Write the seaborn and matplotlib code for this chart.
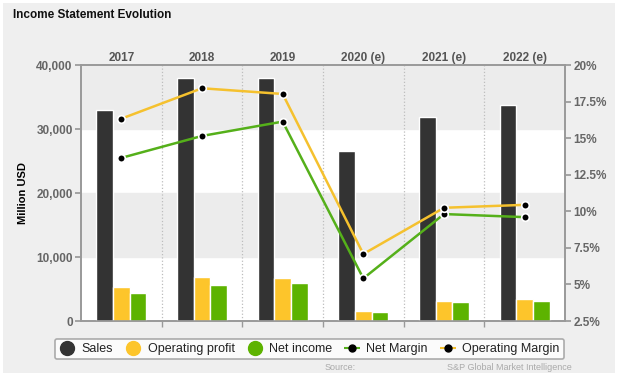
import matplotlib
matplotlib.use('Agg')
import matplotlib.pyplot as plt
from matplotlib.lines import Line2D
from matplotlib.patches import Rectangle
from matplotlib.ticker import FuncFormatter, FixedLocator
import seaborn as sns
import numpy as np
import pandas as pd

# data
years = ['2017', '2018', '2019', '2020 (e)', '2021 (e)', '2022 (e)']
sales = [32900, 38000, 37950, 26500, 31900, 33700]
operating_profit = [5270, 6880, 6720, 1610, 3170, 3480]
net_income = [4330, 5680, 5990, 1360, 3020, 3170]
net_margin = [13.65, 15.15, 16.13, 5.41, 9.81, 9.6]
operating_margin = [16.33, 18.41, 18.02, 7.08, 10.24, 10.44]

series_names = ['Sales', 'Operating profit', 'Net income']
bar_colors = ['#333333', '#fdc52b', '#5db300']
line_green = '#55b01a'
line_yellow = '#f5c12e'

df = pd.DataFrame({
    'year': years * 3,
    'value': sales + operating_profit + net_income,
    'series': np.repeat(series_names, len(years)),
})

sns.set_theme(style='white')
plt.rcParams['font.family'] = ['Liberation Sans', 'DejaVu Sans']

fig = plt.figure(figsize=(6.2, 3.73), dpi=100)
fig.patch.set_facecolor('white')
fig.patches.append(Rectangle((3 / 620, 0), 612 / 620, 370 / 373, transform=fig.transFigure,
                             facecolor='#efefef', edgecolor='none', zorder=-10))

ax = fig.add_axes([81 / 620, 1 - 321 / 373, 484 / 620, 256 / 373])
ax.set_facecolor('white')
ax.axhspan(10000, 20000, color='#ececec', zorder=0)
ax.axhspan(30000, 40000, color='#ececec', zorder=0)

sns.barplot(data=df, x='year', y='value', hue='series', hue_order=series_names,
            palette=bar_colors, width=0.62, saturation=1, ax=ax, legend=False, zorder=3)

ax.set_xlim(-0.5, len(years) - 0.5)
ax.set_ylim(0, 40000)
ax.set_yticks([0, 10000, 20000, 30000, 40000])
ax.yaxis.set_major_formatter(FuncFormatter(lambda v, p: f'{v:,.0f}'))
ax.set_xlabel('')
ax.set_ylabel('Million USD', fontsize=8, fontweight='bold', color='black', labelpad=6)

# year labels on top, boundary ticks below
ax.xaxis.tick_top()
ax.set_xticks(range(len(years)))
ax.set_xticklabels(years, fontsize=8.5, fontweight='bold', color='#555555')
ax.tick_params(axis='x', which='major', length=0, pad=0.5)
ax.xaxis.set_minor_locator(FixedLocator(np.arange(0.5, len(years) - 0.5, 1)))
ax.tick_params(axis='x', which='minor', bottom=True, top=False, length=4, color='#999999')
ax.grid(axis='x', which='minor', linestyle=':', color='#bdbdbd', linewidth=0.9, zorder=1)
ax.tick_params(axis='y', length=4, color='#999999', labelsize=8.5, labelcolor='#666666', pad=2)
for lab in ax.get_yticklabels():
    lab.set_fontweight('bold')
for s in ax.spines.values():
    s.set_color('#999999')
    s.set_linewidth(1.2)

# margins on the right axis
ax2 = ax.twinx()
xpos = np.arange(len(years))
ax2.plot(xpos, net_margin, color=line_green, linewidth=1.8, zorder=4)
ax2.plot(xpos, operating_margin, color=line_yellow, linewidth=1.8, zorder=4)
ax2.scatter(xpos, net_margin, s=30, color='black', edgecolor='white', linewidth=1.2, zorder=5)
ax2.scatter(xpos, operating_margin, s=30, color='black', edgecolor='white', linewidth=1.2, zorder=5)
ax2.set_ylim(2.5, 20)
ax2.set_yticks(np.arange(2.5, 20.01, 2.5))
ax2.yaxis.set_major_formatter(FuncFormatter(lambda v, p: f'{v:g}%'))
ax2.tick_params(axis='y', length=4, color='#999999', labelsize=8.5, labelcolor='#666666', pad=2)
for lab in ax2.get_yticklabels():
    lab.set_fontweight('bold')
for s in ax2.spines.values():
    s.set_color('#999999')
    s.set_linewidth(1.2)

fig.text(13 / 620, 1 - 15 / 373, 'Income Statement Evolution', fontsize=8.5,
         fontweight='bold', color='#111111', va='center', ha='left')

# legend
handles = [
    Line2D([], [], linestyle='none', marker='o', markersize=10, color=bar_colors[0]),
    Line2D([], [], linestyle='none', marker='o', markersize=10, color=bar_colors[1]),
    Line2D([], [], linestyle='none', marker='o', markersize=10, color=bar_colors[2]),
    Line2D([], [], linestyle='--', color=line_green, linewidth=1.5, marker='o',
           markersize=5, markerfacecolor='black', markeredgecolor='black'),
    Line2D([], [], linestyle='--', color=line_yellow, linewidth=1.5, marker='o',
           markersize=5, markerfacecolor='black', markeredgecolor='black'),
]
labels = series_names + ['Net Margin', 'Operating Margin']
leg = fig.legend(handles, labels, loc='center', bbox_to_anchor=(309.5 / 620, 1 - 349 / 373),
                 ncol=5, frameon=True, fontsize=9, handlelength=1.3, handletextpad=0.5,
                 columnspacing=0.95, borderpad=0.35, fancybox=True)
leg.get_frame().set_edgecolor('#999999')
leg.get_frame().set_linewidth(1.2)
leg.get_frame().set_facecolor('white')
for t in leg.get_texts():
    t.set_color('#222222')

# source line under the legend
fig.text(325 / 620, 1 - 363 / 373, 'Source:', fontsize=6.5, color='#aaaaaa', va='top')
fig.text(447 / 620, 1 - 363 / 373, 'S&P Global Market Intelligence', fontsize=6.5,
         color='#aaaaaa', va='top')

fig.savefig('out.png', dpi=100, facecolor=fig.get_facecolor())
